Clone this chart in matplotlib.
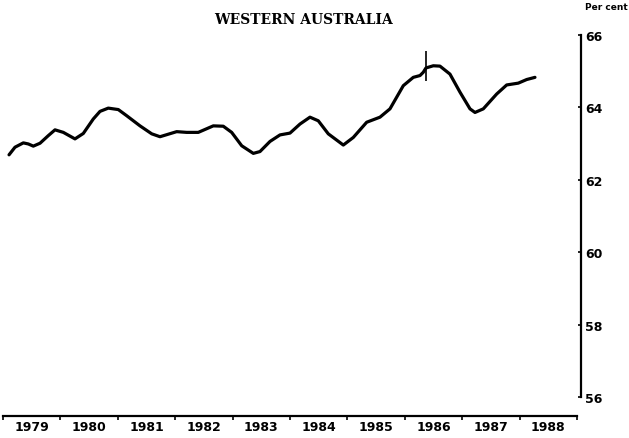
import matplotlib
matplotlib.use("Agg")
import matplotlib.pyplot as plt


# participation rate, Western Australia
years = [1979.105, 1979.209, 1979.354, 1979.441, 1979.528, 1979.645, 1979.789, 1979.906,
         1980.051, 1980.254, 1980.399, 1980.573, 1980.690, 1980.834, 1981.009, 1981.155,
         1981.387, 1981.591, 1981.735, 1982.026, 1982.200, 1982.402, 1982.664, 1982.838,
         1982.984, 1983.159, 1983.361, 1983.477, 1983.652, 1983.826, 1984.000, 1984.174,
         1984.348, 1984.493, 1984.667, 1984.929, 1985.103, 1985.336, 1985.568, 1985.742,
         1985.974, 1986.148, 1986.265, 1986.322, 1986.369, 1986.497, 1986.613, 1986.787,
         1986.962, 1987.136, 1987.223, 1987.368, 1987.601, 1987.775, 1987.977, 1988.124,
         1988.268]
rate = [62.69, 62.90, 63.02, 62.99, 62.93, 63.01, 63.22, 63.38,
        63.31, 63.13, 63.28, 63.68, 63.89, 63.98, 63.94, 63.77,
        63.49, 63.27, 63.19, 63.33, 63.31, 63.31, 63.49, 63.48,
        63.31, 62.94, 62.73, 62.78, 63.06, 63.24, 63.29, 63.54,
        63.73, 63.63, 63.27, 62.96, 63.17, 63.59, 63.73, 63.96,
        64.60, 64.83, 64.88, 64.97, 65.09, 65.15, 65.14, 64.92,
        64.42, 63.96, 63.86, 63.96, 64.37, 64.62, 64.67, 64.77,
        64.83]

# series break marker
break_year = 1986.37
break_lo, break_hi = 64.73, 65.56

year_labels = ["1979", "1980", "1981", "1982", "1983", "1984", "1985", "1986", "1987", "1988"]
y_ticks = [56, 58, 60, 62, 64, 66]

fig = plt.figure(figsize=(6.29, 4.39), dpi=100)
ax = fig.add_axes([3 / 629, 1 - 417 / 439, 578 / 629, 381 / 439])

ax.plot(years, rate, color="black", lw=2.3, solid_joinstyle="round", solid_capstyle="round")
ax.vlines(break_year, break_lo, break_hi, color="black", lw=1.2)

ax.set_xlim(1979, 1989.07)
ax.set_ylim(55.475, 66)

for s in ["top", "left"]:
    ax.spines[s].set_visible(False)
ax.spines["right"].set_bounds(56, 66)
ax.spines["right"].set_linewidth(1.6)
ax.spines["bottom"].set_bounds(1979, 1989)
ax.spines["bottom"].set_linewidth(1.6)

ax.yaxis.tick_right()
ax.set_yticks(y_ticks)
ax.set_yticklabels([str(v) for v in y_ticks], fontsize=9, fontweight="bold")
ax.tick_params(axis="y", direction="in", length=2, width=1.2, pad=3)

ax.set_xticks(range(1979, 1990))
ax.set_xticklabels([])
ax.tick_params(axis="x", which="major", direction="out", length=3, width=1.2)
ax.set_xticks([int(y) + 0.5 for y in year_labels], minor=True)
ax.set_xticklabels(year_labels, minor=True, fontsize=9, fontweight="bold")
ax.tick_params(axis="x", which="minor", length=0, pad=3)

fig.text(303 / 629, 1 - 20 / 439, "WESTERN AUSTRALIA", ha="center", va="center",
         family="DejaVu Serif", fontweight="bold", fontsize=10)
fig.text(606 / 629, 1 - 8 / 439, "Per cent", ha="center", va="center",
         fontsize=6.5, fontweight="bold")

fig.savefig("out.png", dpi=100)
